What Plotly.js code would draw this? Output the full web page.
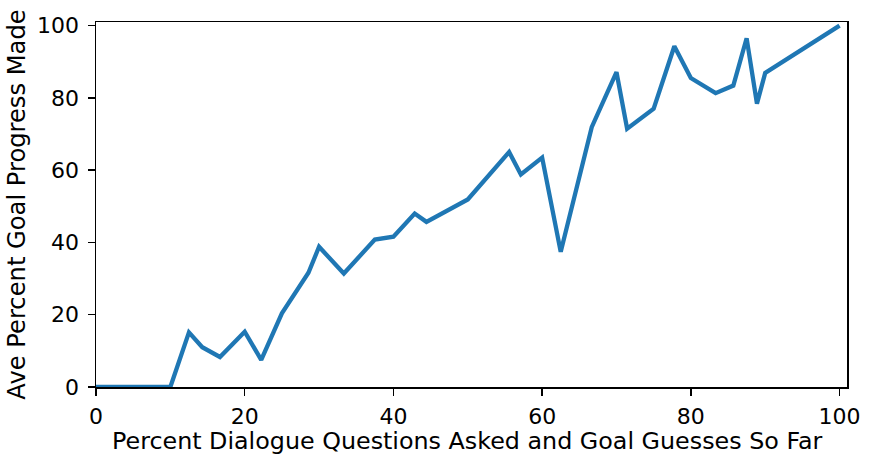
<!DOCTYPE html>
<html>
<head>
<meta charset="utf-8">
<script src="https://cdn.plot.ly/plotly-3.0.1.min.js"></script>
<style>html,body{margin:0;padding:0;background:#fff;}#chart{width:872px;height:461px;}</style>
</head>
<body>
<div id="chart"></div>
<script>
const xPercent = [0, 10, 12.5, 14.29, 16.67, 20, 22.22, 25, 28.57, 30, 33.33, 37.5, 40, 42.86, 44.44, 50, 55.56, 57.14, 60, 62.5, 66.67, 70, 71.43, 75, 77.78, 80, 83.33, 85.71, 87.5, 88.89, 90, 100];
const yProgress = [0, 0, 15.1, 11.0, 8.3, 15.3, 7.5, 20.4, 31.6, 38.8, 31.4, 40.8, 41.6, 48.0, 45.7, 51.9, 65.0, 58.8, 63.5, 37.4, 71.9, 87.1, 71.5, 77.0, 94.3, 85.5, 81.3, 83.4, 96.5, 78.4, 86.9, 100];
const xTicks = [0, 20, 40, 60, 80, 100];
const yTicks = [0, 20, 40, 60, 80, 100];
const xTitle = "Percent Dialogue Questions Asked and Goal Guesses So Far";
const yTitle = "Ave Percent Goal Progress Made";

const font = {family: "DejaVu Sans", color: "#000"};
Plotly.newPlot("chart", [{
  x: xPercent, y: yProgress, type: "scatter", mode: "lines",
  line: {color: "#1f77b4", width: 4.3}, hoverinfo: "skip"
}], {
  width: 872, height: 461,
  margin: {l: 96, r: 25, t: 22, b: 74},
  paper_bgcolor: "#fff", plot_bgcolor: "#fff",
  showlegend: false,
  font: Object.assign({size: 22}, font),
  xaxis: {
    range: [0, 101], tickvals: xTicks, ticktext: xTicks.map(String),
    showgrid: false, zeroline: false, showline: true, mirror: true,
    linecolor: "#000", linewidth: 1.5, ticks: "outside", ticklen: 7, tickwidth: 1.5, tickcolor: "#000",
    ticklabelstandoff: 2,
    tickfont: Object.assign({size: 22}, font),
    automargin: false
  },
  yaxis: {
    range: [0, 101], tickvals: yTicks, ticktext: yTicks.map(String),
    showgrid: false, zeroline: false, showline: true, mirror: true,
    linecolor: "#000", linewidth: 1.5, ticks: "outside", ticklen: 7, tickwidth: 1.5, tickcolor: "#000",
    ticklabelstandoff: 4,
    tickfont: Object.assign({size: 22}, font),
    title: {text: yTitle, font: Object.assign({size: 24.2}, font), standoff: 4},
    automargin: false
  },
  annotations: [{
    text: xTitle, xref: "paper", yref: "paper", x: 0.4945, y: -0.147,
    xanchor: "center", yanchor: "middle", showarrow: false, borderpad: 0,
    font: Object.assign({size: 23.8}, font)
  }]
}, {displayModeBar: false, staticPlot: true});
</script>
</body>
</html>
